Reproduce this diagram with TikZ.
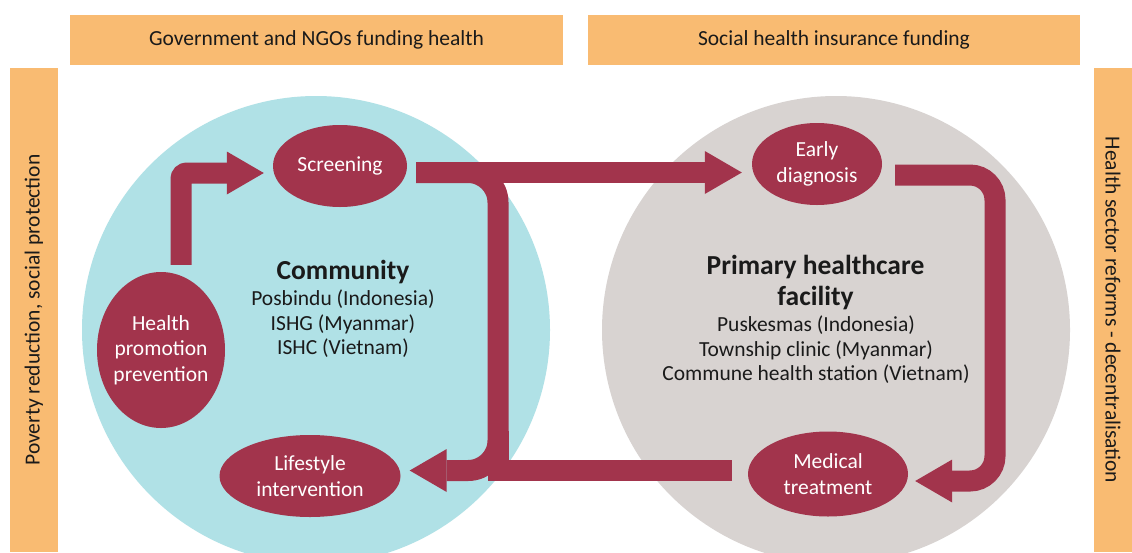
\documentclass[tikz,border=0pt]{standalone}
\usepackage{fontspec}
\setmainfont{Carlito}
\usetikzlibrary{shapes.geometric,arrows.meta,calc}
\definecolor{barorange}{RGB}{249,187,114}
\definecolor{commblue}{RGB}{176,225,230}
\definecolor{facgray}{RGB}{216,211,209}
\definecolor{wine}{RGB}{162,52,76}
\definecolor{ink}{RGB}{26,26,26}
\begin{document}
\begin{tikzpicture}[x=1pt,y=-1pt,
  bar/.style={fill=barorange, text=ink, inner sep=0pt, font=\fontsize{21.5}{25}\selectfont},
  oval/.style={ellipse, fill=wine, text=white, inner sep=-12pt, align=center, font=\fontsize{21.5}{25.5}\selectfont},
  shaft/.style={draw=wine, line width=21pt},
  arr/.style={shaft, -{Triangle[length=37pt,width=43pt,line width=0pt]}},
  zone/.style={circle, inner sep=0pt, minimum size=468pt},
  title/.style={font=\bfseries\fontsize{27.5}{31}\selectfont, text=ink, align=center},
  sub/.style={font=\fontsize{21.5}{24.5}\selectfont, text=ink, align=center}]
\useasboundingbox (0,0) rectangle (1132,552);
\fill[white] (0,0) rectangle (1132,552);

% funding / context bars
\node[bar, minimum width=493pt, minimum height=50pt] (gov) at (316.5,40) {Government and NGOs funding health};
\node[bar, minimum width=492pt, minimum height=50pt] (shi) at (834,40) {Social health insurance funding};
\node[bar, rotate=90, minimum width=484pt, minimum height=48pt] (pov) at (34,310) {Poverty reduction, social protection};
\node[bar, rotate=-90, minimum width=484pt, minimum height=38pt] (hsr) at (1113,310) {Health sector reforms - decentralisation};

% settings
\node[zone, fill=commblue] (comm) at (316,330) {};
\node[zone, fill=facgray] (phc) at (836,330) {};

\node[title] (commT) at (343,272) {Community};
\node[sub] (commS) at (343,324) {Posbindu (Indonesia)\\ISHG (Myanmar)\\ISHC (Vietnam)};
\node[title] (phcT) at (815.5,282.5) {Primary healthcare\\facility};
\node[sub] (phcS) at (816,350) {Puskesmas (Indonesia)\\Township clinic (Myanmar)\\Commune health station (Vietnam)};

% activities
\node[oval, minimum width=128pt, minimum height=156pt] (hp) at (161,350) {Health\\promotion\\prevention};
\node[oval, minimum width=134pt, minimum height=82pt] (scr) at (340,166) {Screening};
\node[oval, minimum width=130pt, minimum height=82pt] (ed) at (817,164) {Early\\diagnosis};
\node[oval, minimum width=181pt, minimum height=82pt] (ll) at (310,476) {Lifestyle\\intervention};
\node[oval, minimum width=160pt, minimum height=85pt] (med) at (828,474) {Medical\\treatment};

% helper points
\coordinate (h1) at ([shift={(20,-7)}]hp.north);
\coordinate (h2) at ([shift={(0,7)}]scr.west);
\coordinate (s1) at ([shift={(9,6.5)}]scr.east);
\coordinate (j2) at (498,470.5);
\coordinate (m1) at ([shift={(-16,-3.5)}]med.west);
\coordinate (e1) at ([shift={(13,11)}]ed.east);
\coordinate (j3) at (995,481);

% flows
\draw[arr, rounded corners=6pt, shorten >=9pt] (h1) |- (h2);
\draw[arr, shorten >=10pt] (s1) -- (s1 -| ed.west);
\draw[shaft] (m1) -- (j2) -- ++(0,-40);
\draw[arr, rounded corners=30pt, shorten >=9pt] (s1) -| (j2) -- (j2 -| ll.east);
\draw[arr, rounded corners=25pt, shorten >=7pt] (e1) -| (j3) -- (j3 -| med.east);
\end{tikzpicture}
\end{document}
